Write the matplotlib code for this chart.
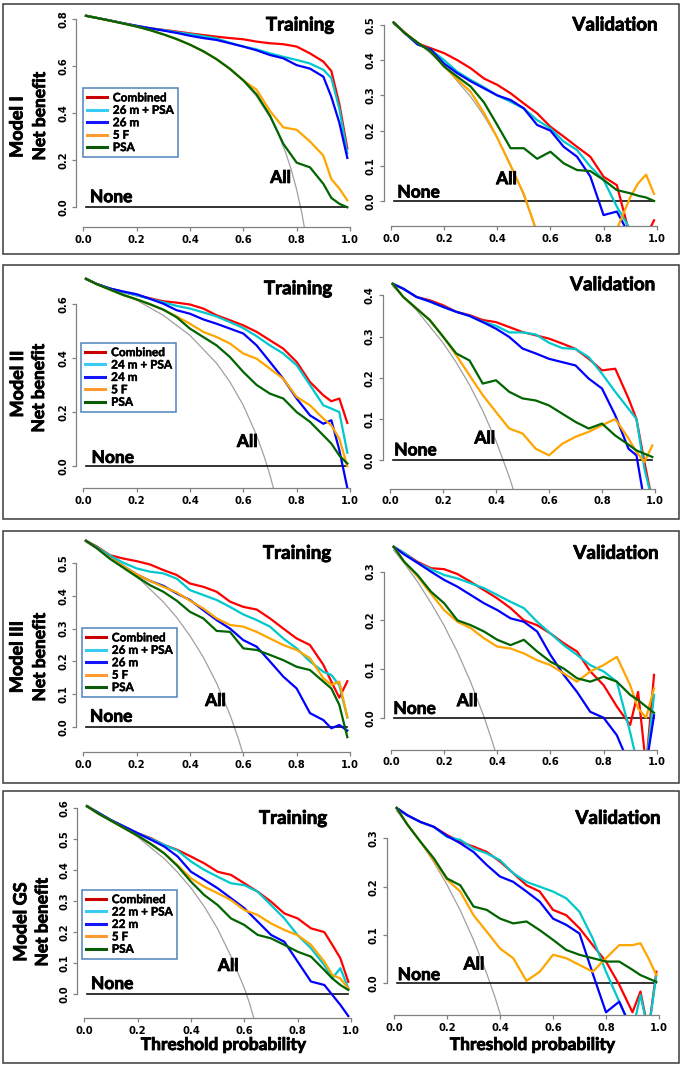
import matplotlib
matplotlib.use('Agg')
import matplotlib.pyplot as plt
import matplotlib.patheffects as pe
from matplotlib.lines import Line2D
from matplotlib.patches import Rectangle

W, H = 685, 1068

# ── data (net benefit) ─────────────────────────────────────────────────────────

thr = [0.01, 0.05, 0.10, 0.15, 0.20, 0.25, 0.30, 0.35, 0.40, 0.45, 0.50,
       0.55, 0.60, 0.65, 0.70, 0.75, 0.80, 0.85, 0.90, 0.93, 0.96, 0.99]

# Model I, training
m1_tr_comb = [0.815, 0.806, 0.795, 0.783, 0.772, 0.762, 0.755, 0.748, 0.740, 0.733, 0.726, 0.720, 0.715, 0.705, 0.698, 0.694, 0.684, 0.655, 0.620, 0.580, 0.440, 0.250]
m1_tr_mpsa = [0.815, 0.806, 0.795, 0.783, 0.772, 0.762, 0.754, 0.745, 0.737, 0.728, 0.718, 0.700, 0.684, 0.672, 0.655, 0.640, 0.627, 0.612, 0.585, 0.550, 0.420, 0.230]
m1_tr_m    = [0.815, 0.806, 0.795, 0.783, 0.772, 0.762, 0.752, 0.742, 0.730, 0.720, 0.712, 0.698, 0.684, 0.668, 0.648, 0.634, 0.605, 0.590, 0.556, 0.470, 0.360, 0.210]
m1_tr_5f   = [0.815, 0.806, 0.794, 0.782, 0.769, 0.754, 0.736, 0.716, 0.692, 0.664, 0.630, 0.589, 0.540, 0.500, 0.410, 0.340, 0.330, 0.280, 0.220, 0.120, 0.080, 0.030]
m1_tr_psa  = [0.815, 0.806, 0.794, 0.782, 0.769, 0.754, 0.736, 0.716, 0.692, 0.664, 0.630, 0.589, 0.540, 0.480, 0.390, 0.270, 0.190, 0.170, 0.100, 0.040, 0.015, 0.000]
m1_tr_all_x = [0.01, 0.10, 0.20, 0.30, 0.40, 0.50, 0.55, 0.60, 0.65, 0.70, 0.73, 0.76, 0.78, 0.80, 0.82, 0.84]
m1_tr_all   = [0.813, 0.794, 0.769, 0.736, 0.692, 0.630, 0.589, 0.538, 0.471, 0.383, 0.315, 0.229, 0.159, 0.075, -0.028, -0.156]

# Model I, validation
m1_va_comb = [0.507, 0.480, 0.448, 0.434, 0.420, 0.400, 0.377, 0.348, 0.330, 0.306, 0.277, 0.249, 0.211, 0.183, 0.154, 0.126, 0.069, 0.045, -0.100, -0.120, -0.100, -0.055]
m1_va_mpsa = [0.507, 0.478, 0.445, 0.430, 0.400, 0.367, 0.344, 0.323, 0.300, 0.282, 0.263, 0.230, 0.206, 0.169, 0.145, 0.098, 0.060, -0.016, -0.080, -0.120, -0.120, -0.120]
m1_va_m    = [0.507, 0.478, 0.445, 0.430, 0.390, 0.363, 0.340, 0.320, 0.300, 0.287, 0.263, 0.216, 0.200, 0.154, 0.126, 0.070, -0.040, -0.030, -0.100, -0.120, -0.120, -0.120]
m1_va_5f   = [0.507, 0.478, 0.450, 0.424, 0.382, 0.345, 0.310, 0.250, 0.180, 0.100, 0.020, -0.090, -0.200, -0.200, -0.200, -0.200, -0.200, -0.080, 0.010, 0.050, 0.075, 0.020]
m1_va_psa  = [0.507, 0.478, 0.450, 0.424, 0.382, 0.353, 0.325, 0.280, 0.216, 0.150, 0.150, 0.120, 0.140, 0.107, 0.088, 0.085, 0.060, 0.031, 0.022, 0.015, 0.010, 0.000]
m1_va_all_x = [0.01, 0.10, 0.20, 0.30, 0.35, 0.40, 0.45, 0.50, 0.53, 0.56]
m1_va_all   = [0.502, 0.452, 0.384, 0.296, 0.242, 0.178, 0.104, 0.014, -0.049, -0.120]

# Model II, training
m2_tr_comb = [0.692, 0.673, 0.656, 0.643, 0.631, 0.620, 0.609, 0.604, 0.597, 0.582, 0.557, 0.539, 0.520, 0.496, 0.465, 0.434, 0.385, 0.311, 0.262, 0.240, 0.250, 0.160]
m2_tr_mpsa = [0.692, 0.673, 0.656, 0.643, 0.631, 0.618, 0.605, 0.592, 0.582, 0.568, 0.553, 0.532, 0.510, 0.480, 0.446, 0.416, 0.373, 0.300, 0.225, 0.213, 0.200, 0.050]
m2_tr_m    = [0.692, 0.673, 0.656, 0.645, 0.635, 0.618, 0.600, 0.576, 0.563, 0.542, 0.526, 0.508, 0.490, 0.446, 0.385, 0.323, 0.250, 0.188, 0.157, 0.170, 0.060, -0.080]
m2_tr_5f   = [0.692, 0.672, 0.652, 0.632, 0.616, 0.598, 0.578, 0.553, 0.526, 0.496, 0.477, 0.453, 0.416, 0.397, 0.360, 0.323, 0.256, 0.225, 0.176, 0.151, 0.102, 0.000]
m2_tr_psa  = [0.692, 0.672, 0.652, 0.632, 0.616, 0.598, 0.578, 0.550, 0.508, 0.477, 0.446, 0.403, 0.348, 0.300, 0.268, 0.250, 0.200, 0.164, 0.114, 0.084, 0.040, 0.010]
m2_tr_all_x = [0.01, 0.10, 0.20, 0.30, 0.40, 0.50, 0.55, 0.60, 0.65, 0.68, 0.70, 0.72]
m2_tr_all   = [0.687, 0.656, 0.613, 0.557, 0.483, 0.380, 0.311, 0.225, 0.114, 0.031, -0.033, -0.107]

# Model II, validation
m2_va_comb = [0.428, 0.416, 0.396, 0.388, 0.376, 0.360, 0.352, 0.340, 0.335, 0.323, 0.311, 0.303, 0.295, 0.283, 0.270, 0.246, 0.218, 0.222, 0.150, 0.100, -0.004, -0.100]
m2_va_mpsa = [0.428, 0.416, 0.396, 0.385, 0.372, 0.360, 0.350, 0.336, 0.326, 0.310, 0.310, 0.305, 0.285, 0.272, 0.270, 0.250, 0.210, 0.166, 0.125, 0.100, -0.020, -0.100]
m2_va_m    = [0.428, 0.416, 0.396, 0.385, 0.372, 0.360, 0.350, 0.335, 0.319, 0.299, 0.271, 0.259, 0.246, 0.238, 0.230, 0.198, 0.174, 0.109, 0.028, 0.012, -0.100, -0.100]
m2_va_5f   = [0.428, 0.396, 0.368, 0.340, 0.300, 0.255, 0.206, 0.158, 0.117, 0.077, 0.065, 0.028, 0.012, 0.040, 0.057, 0.069, 0.085, 0.100, 0.053, 0.020, -0.004, 0.036]
m2_va_psa  = [0.428, 0.396, 0.368, 0.340, 0.300, 0.259, 0.242, 0.186, 0.194, 0.166, 0.150, 0.145, 0.133, 0.113, 0.093, 0.077, 0.089, 0.060, 0.038, 0.024, 0.016, 0.008]
m2_va_all_x = [0.01, 0.10, 0.20, 0.25, 0.30, 0.35, 0.40, 0.45, 0.48]
m2_va_all   = [0.422, 0.364, 0.285, 0.237, 0.183, 0.120, 0.047, -0.040, -0.100]

# Model III, training
m3_tr_comb = [0.567, 0.550, 0.523, 0.513, 0.505, 0.495, 0.478, 0.463, 0.437, 0.427, 0.412, 0.382, 0.366, 0.358, 0.331, 0.300, 0.270, 0.250, 0.190, 0.139, 0.090, 0.140]
m3_tr_mpsa = [0.567, 0.548, 0.522, 0.500, 0.483, 0.473, 0.468, 0.452, 0.417, 0.402, 0.387, 0.366, 0.343, 0.326, 0.306, 0.270, 0.240, 0.200, 0.169, 0.159, 0.128, 0.030]
m3_tr_m    = [0.567, 0.545, 0.515, 0.490, 0.465, 0.445, 0.430, 0.407, 0.387, 0.356, 0.326, 0.300, 0.265, 0.245, 0.200, 0.154, 0.118, 0.043, 0.022, -0.003, 0.007, -0.010]
m3_tr_5f   = [0.567, 0.545, 0.515, 0.490, 0.465, 0.445, 0.427, 0.410, 0.385, 0.361, 0.331, 0.311, 0.306, 0.290, 0.270, 0.250, 0.235, 0.210, 0.149, 0.129, 0.139, 0.030]
m3_tr_psa  = [0.567, 0.545, 0.512, 0.485, 0.458, 0.432, 0.412, 0.385, 0.351, 0.331, 0.293, 0.290, 0.240, 0.235, 0.220, 0.204, 0.184, 0.174, 0.139, 0.118, 0.068, -0.030]
m3_tr_all_x = [0.01, 0.10, 0.20, 0.30, 0.35, 0.40, 0.45, 0.50, 0.55, 0.58, 0.61]
m3_tr_all   = [0.563, 0.519, 0.459, 0.381, 0.334, 0.278, 0.213, 0.134, 0.038, -0.031, -0.110]

# Model III, validation
m3_va_comb = [0.351, 0.338, 0.320, 0.307, 0.305, 0.295, 0.279, 0.262, 0.245, 0.225, 0.200, 0.190, 0.173, 0.153, 0.136, 0.095, 0.067, 0.023, -0.015, 0.053, -0.100, 0.088]
m3_va_mpsa = [0.351, 0.338, 0.318, 0.305, 0.293, 0.286, 0.276, 0.266, 0.252, 0.238, 0.225, 0.197, 0.173, 0.149, 0.129, 0.108, 0.095, 0.074, -0.030, -0.100, -0.100, 0.047]
m3_va_m    = [0.351, 0.335, 0.318, 0.300, 0.283, 0.269, 0.252, 0.235, 0.221, 0.204, 0.197, 0.177, 0.129, 0.088, 0.053, 0.012, 0.000, -0.036, -0.100, -0.100, -0.100, 0.005]
m3_va_5f   = [0.351, 0.320, 0.290, 0.255, 0.221, 0.197, 0.184, 0.163, 0.146, 0.142, 0.132, 0.118, 0.108, 0.091, 0.074, 0.095, 0.108, 0.125, 0.067, 0.019, 0.000, 0.060]
m3_va_psa  = [0.351, 0.320, 0.293, 0.259, 0.235, 0.200, 0.190, 0.177, 0.160, 0.149, 0.160, 0.136, 0.115, 0.101, 0.081, 0.074, 0.084, 0.074, 0.047, 0.036, 0.023, 0.010]
m3_va_all_x = [0.01, 0.05, 0.10, 0.15, 0.20, 0.25, 0.30, 0.35, 0.38, 0.41]
m3_va_all   = [0.344, 0.317, 0.279, 0.236, 0.189, 0.135, 0.073, 0.002, -0.047, -0.100]

# Model GS, training
m4_tr_comb = [0.605, 0.585, 0.560, 0.539, 0.518, 0.502, 0.480, 0.464, 0.443, 0.421, 0.394, 0.384, 0.357, 0.330, 0.298, 0.260, 0.244, 0.212, 0.200, 0.159, 0.116, 0.040]
m4_tr_mpsa = [0.605, 0.585, 0.560, 0.539, 0.518, 0.500, 0.480, 0.462, 0.427, 0.400, 0.378, 0.357, 0.351, 0.330, 0.287, 0.244, 0.190, 0.148, 0.094, 0.051, 0.084, 0.019]
m4_tr_m    = [0.605, 0.585, 0.560, 0.539, 0.518, 0.497, 0.475, 0.443, 0.394, 0.368, 0.341, 0.309, 0.277, 0.234, 0.191, 0.169, 0.105, 0.041, 0.030, -0.002, -0.034, -0.070]
m4_tr_5f   = [0.605, 0.582, 0.558, 0.534, 0.510, 0.483, 0.453, 0.415, 0.373, 0.346, 0.325, 0.303, 0.271, 0.255, 0.228, 0.207, 0.190, 0.159, 0.105, 0.062, 0.051, 0.019]
m4_tr_psa  = [0.605, 0.582, 0.558, 0.534, 0.510, 0.483, 0.453, 0.412, 0.362, 0.319, 0.287, 0.244, 0.223, 0.191, 0.180, 0.159, 0.137, 0.121, 0.078, 0.051, 0.030, 0.014]
m4_tr_all_x = [0.01, 0.10, 0.20, 0.30, 0.35, 0.40, 0.45, 0.50, 0.55, 0.60, 0.62, 0.65]
m4_tr_all   = [0.601, 0.561, 0.506, 0.436, 0.392, 0.342, 0.282, 0.210, 0.122, 0.020, -0.030, -0.120]

# Model GS, validation
m4_va_comb = [0.363, 0.348, 0.334, 0.324, 0.307, 0.293, 0.283, 0.272, 0.252, 0.228, 0.203, 0.190, 0.152, 0.141, 0.114, 0.079, 0.045, -0.003, -0.060, -0.017, -0.100, 0.024]
m4_va_mpsa = [0.363, 0.348, 0.334, 0.324, 0.303, 0.297, 0.279, 0.269, 0.255, 0.228, 0.210, 0.200, 0.190, 0.176, 0.148, 0.093, 0.024, -0.038, -0.100, -0.024, -0.100, 0.017]
m4_va_m    = [0.363, 0.348, 0.334, 0.324, 0.305, 0.290, 0.272, 0.245, 0.221, 0.210, 0.190, 0.169, 0.134, 0.121, 0.103, 0.020, -0.060, -0.038, -0.100, -0.100, -0.100, -0.100]
m4_va_5f   = [0.363, 0.329, 0.293, 0.255, 0.215, 0.190, 0.141, 0.107, 0.072, 0.052, 0.005, 0.024, 0.059, 0.052, 0.038, 0.024, 0.052, 0.079, 0.079, 0.083, 0.052, 0.017]
m4_va_psa  = [0.363, 0.329, 0.293, 0.259, 0.217, 0.203, 0.159, 0.152, 0.134, 0.124, 0.128, 0.110, 0.090, 0.069, 0.059, 0.052, 0.045, 0.045, 0.028, 0.017, 0.010, 0.003]
m4_va_all_x = [0.01, 0.05, 0.10, 0.15, 0.20, 0.25, 0.30, 0.35, 0.38, 0.41]
m4_va_all   = [0.357, 0.329, 0.292, 0.251, 0.204, 0.151, 0.090, 0.020, -0.027, -0.080]

model_names = ['Model I', 'Model II', 'Model III', 'Model GS']
marker_names = ['26 m', '24 m', '26 m', '22 m']
x_ticks = [0.0, 0.2, 0.4, 0.6, 0.8, 1.0]

# ── styling ────────────────────────────────────────────────────────────────────

LINE_COLORS = ['#ff0000', '#00c8cc', '#0000ff', '#ffa500', '#006400']
LEG_COLORS = ['#c80000', '#38ccf5', '#1414ff', '#ff9a30', '#0a5a0a']
LBL = 'Lato'
TICKF = dict(family='DejaVu Sans', weight='bold', size=7.2)
HEAVY = [pe.withStroke(linewidth=0.6, foreground='black')]

def fx(x):
    return x / W

def fy(y):
    return 1 - y / H

def big_text(x, y, s, **kw):
    kw.setdefault('ha', 'center')
    kw.setdefault('va', 'center')
    return fig.text(fx(x), fy(y), s, family=LBL, weight='bold', path_effects=HEAVY, **kw)

# pixel frame of each plot: x of 0 and 1, y of 0, px per unit, ylim, yticks,
# label spots ("None" x,y  /  "All" x,y in data units), title centre, legend corner
panels = [
    dict(d=(m1_tr_comb, m1_tr_mpsa, m1_tr_m, m1_tr_5f, m1_tr_psa), a=(m1_tr_all_x, m1_tr_all),
         fr=(83.3, 350, 207.3, 235), yl=(-0.085, 0.85), yt=[0, 0.2, 0.4, 0.6, 0.8],
         none=(0.025, 0.043), all=(0.74, 0.125), title='Training', tp=(300, 25), leg=(82.7, 88.3)),
    dict(d=(m1_va_comb, m1_va_mpsa, m1_va_m, m1_va_5f, m1_va_psa), a=(m1_va_all_x, m1_va_all),
         fr=(391, 656.7, 201, 352), yl=(-0.072, 0.53), yt=[0, 0.1, 0.2, 0.3, 0.4, 0.5],
         none=(0.024, 0.024), all=(0.435, 0.062), title='Validation', tp=(615, 25)),
    dict(d=(m2_tr_comb, m2_tr_mpsa, m2_tr_m, m2_tr_5f, m2_tr_psa), a=(m2_tr_all_x, m2_tr_all),
         fr=(83.3, 350, 466.3, 271), yl=(-0.08, 0.722), yt=[0, 0.2, 0.4, 0.6],
         none=(0.031, 0.031), all=(0.615, 0.09), title='Training', tp=(298, 288.7), leg=(81, 343)),
    dict(d=(m2_va_comb, m2_va_mpsa, m2_va_m, m2_va_5f, m2_va_psa), a=(m2_va_all_x, m2_va_all),
         fr=(390, 655, 460.3, 412.5), yl=(-0.069, 0.447), yt=[0, 0.1, 0.2, 0.3, 0.4],
         none=(0.016, 0.024), all=(0.358, 0.053), title='Validation', tp=(612.6, 284.7)),
    dict(d=(m3_tr_comb, m3_tr_mpsa, m3_tr_m, m3_tr_5f, m3_tr_psa), a=(m3_tr_all_x, m3_tr_all),
         fr=(83.3, 350, 727.3, 329), yl=(-0.075, 0.592), yt=[0, 0.1, 0.2, 0.3, 0.4, 0.5],
         none=(0.025, 0.032), all=(0.496, 0.08), title='Training', tp=(297, 553.3), leg=(81.7, 628.3)),
    dict(d=(m3_va_comb, m3_va_mpsa, m3_va_m, m3_va_5f, m3_va_psa), a=(m3_va_all_x, m3_va_all),
         fr=(391, 656.7, 717.7, 487), yl=(-0.066, 0.367), yt=[0, 0.1, 0.2, 0.3],
         none=(0.009, 0.018), all=(0.287, 0.034), title='Validation', tp=(616, 553.3)),
    dict(d=(m4_tr_comb, m4_tr_mpsa, m4_tr_m, m4_tr_5f, m4_tr_psa), a=(m4_tr_all_x, m4_tr_all),
         fr=(84.3, 351, 994.3, 311), yl=(-0.076, 0.631), yt=[0, 0.1, 0.2, 0.3, 0.4, 0.5, 0.6],
         none=(0.025, 0.033), all=(0.54, 0.091), title='Training', tp=(293, 818.3), leg=(81.7, 890)),
    dict(d=(m4_va_comb, m4_va_mpsa, m4_va_m, m4_va_5f, m4_va_psa), a=(m4_va_all_x, m4_va_all),
         fr=(394, 659, 983.3, 483), yl=(-0.0665, 0.38), yt=[0, 0.1, 0.2, 0.3],
         none=(0.014, 0.017), all=(0.302, 0.039), title='Validation', tp=(618, 818.3)),
]

boxes = [(4, 254), (265, 519), (530.7, 783.3), (790.7, 1063.3)]
ylab_pos = [((17, 127), (40, 116)), ((17.5, 384), (39, 388)),
            ((17, 657), (40, 657)), ((20.8, 922), (42.5, 922))]

fig = plt.figure(figsize=(W / 100, H / 100), dpi=100)

for top, bot in boxes:
    fig.patches.append(Rectangle((fx(2.5), fy(bot)), fx(679) - fx(2.5), fy(top) - fy(bot),
                                 transform=fig.transFigure, fill=False,
                                 ec='#3a3a3a', lw=1.1))

XL = (-0.028, 1.028)
for i, p in enumerate(panels):
    x0, x1, y0, ys = p['fr']
    yb, ytp = p['yl']
    left = x0 + XL[0] * (x1 - x0)
    right = x0 + XL[1] * (x1 - x0)
    top = y0 - ytp * ys
    bottom = y0 - yb * ys
    ax = fig.add_axes([fx(left), fy(bottom), (right - left) / W, (bottom - top) / H])
    ax.set_xlim(*XL)
    ax.set_ylim(yb, ytp)
    ax.patch.set_alpha(0)

    ax.plot(p['a'][0], p['a'][1], color='#a0a0a0', lw=0.9, zorder=1)
    ax.plot([0.01, 0.99], [0, 0], color='#111111', lw=1.2, zorder=1)
    for ser, col in zip(p['d'], LINE_COLORS):
        ax.plot(thr, ser, color=col, lw=1.6, zorder=2)

    for s in ('top', 'right'):
        ax.spines[s].set_visible(False)
    ax.spines['left'].set_bounds(0, p['yt'][-1])
    ax.spines['bottom'].set_bounds(0, 1)
    for s in ('left', 'bottom'):
        ax.spines[s].set_color('#808080')
        ax.spines[s].set_linewidth(0.9)
    ax.set_xticks(x_ticks)
    ax.set_xticklabels(['%.1f' % v for v in x_ticks], fontdict=TICKF)
    ax.set_yticks(p['yt'])
    ax.set_yticklabels(['%.1f' % v for v in p['yt']], fontdict=TICKF, rotation=90, va='center')
    ax.tick_params(length=3, width=0.9, color='#808080', pad=2.5)

    ax.text(p['none'][0], p['none'][1], 'None', family=LBL, weight='bold', size=12.5,
            ha='left', va='center', path_effects=HEAVY)
    ax.text(p['all'][0], p['all'][1], 'All', family=LBL, weight='bold', size=12.5,
            ha='center', va='center', path_effects=HEAVY)
    big_text(p['tp'][0], p['tp'][1], p['title'], size=13.5)

    if 'leg' in p:
        row = i // 2
        labels = ['Combined', marker_names[row] + ' + PSA', marker_names[row], '5 F', 'PSA']
        handles = [Line2D([0], [0], color=c, lw=2.2) for c in LEG_COLORS]
        leg = ax.legend(handles, labels, loc='upper left',
                        bbox_to_anchor=(fx(p['leg'][0]), fy(p['leg'][1])),
                        bbox_transform=fig.transFigure, fancybox=False, framealpha=1,
                        edgecolor='#4f81bd', prop=dict(family=LBL, weight='bold', size=8.5),
                        handlelength=1.7, handletextpad=0.5, labelspacing=0.12,
                        borderpad=0.35, borderaxespad=0)
        leg.get_frame().set_linewidth(1.1)
        for t in leg.get_texts():
            t.set_path_effects([pe.withStroke(linewidth=0.3, foreground='black')])

        (mx, my), (nx, ny) = ylab_pos[row]
        big_text(mx, my, model_names[row], size=13, rotation=90)
        big_text(nx, ny, 'Net benefit', size=12.5, rotation=90)

big_text(223.5, 1045, 'Threshold probability', size=12.5)
big_text(532.5, 1045, 'Threshold probability', size=12.5)

fig.savefig('out.png', dpi=100)
